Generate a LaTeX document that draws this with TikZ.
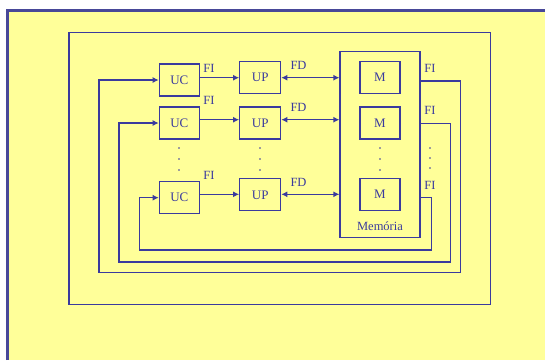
\documentclass[tikz,border=0pt]{standalone}
\usepackage{fontspec}
\setmainfont{Liberation Serif}
\usetikzlibrary{arrows.meta}
\definecolor{ln}{HTML}{3A3A9E}
\definecolor{pan}{HTML}{FFFF99}
\begin{document}
\begin{tikzpicture}[x=1pt,y=-1pt,
  box/.style={draw=ln,line width=1.2pt,minimum width=40pt,minimum height=32pt,inner sep=0pt,text=ln,font=\fontsize{13}{15}\selectfont},
  lbl/.style={text=ln,inner sep=0pt,font=\fontsize{12.5}{14}\selectfont},
  wire/.style={draw=ln,line width=1.2pt},
  tip/.style={-{Latex[length=6pt,width=6pt]}},
  dtip/.style={{Latex[length=6pt,width=6pt]}-{Latex[length=6pt,width=6pt]}},
  dot/.style={fill=ln}]
\useasboundingbox (0,0) rectangle (545,360);
\fill[white] (0,0) rectangle (545,360);
\fill[pan] (7.5,10.5) rectangle (545,360);
\draw[ln!80!gray,line width=2.2pt] (7.5,360) -- (7.5,10.5) -- (545,10.5);
\draw[wire] (69,32.7) rectangle (490.7,304.3);
% boxes
\node[box] (UC1) at (179.3,80) {UC};
\node[box] (UC2) at (179.3,123) {UC};
\node[box] (UC3) at (179.3,197.7) {UC};
\node[box,minimum width=41pt] (UP1) at (260.2,77.7) {UP};
\node[box,minimum width=41pt] (UP2) at (260.2,123) {UP};
\node[box,minimum width=41pt] (UP3) at (260.2,194.8) {UP};
\node[draw=ln,line width=1.2pt,minimum width=80pt,minimum height=185.6pt,inner sep=0pt] (Mem) at (380,144.5) {};
\node[box] (M1) at (380,77.7) {M};
\node[box] (M2) at (380,123) {M};
\node[box] (M3) at (380,194.7) {M};
\node[lbl] (memlbl) at (380,226) {Memória};
% row levels
\coordinate (a1) at (0,77.7);
\coordinate (a2) at (0,119.7);
\coordinate (a3) at (0,194.3);
% UC -> UP
\draw[wire,tip] (UC1.east |- a1) -- (UP1.west |- a1);
\draw[wire,tip] (UC2.east |- a2) -- (UP2.west |- a2);
\draw[wire,tip] (UC3.east |- a3) -- (UP3.west |- a3);
% UP <-> Mem
\draw[wire,dtip] (UP1.east |- a1) -- (Mem.west |- a1);
\draw[wire,dtip] (UP2.east |- a2) -- (Mem.west |- a2);
\draw[wire,dtip] (UP3.east |- a3) -- (Mem.west |- a3);
% feedback loops
\coordinate (R1) at (460.7,81);
\coordinate (L1) at (99,272.3);
\coordinate (R2) at (450.3,123.3);
\coordinate (L2) at (119,262);
\coordinate (R3) at (431.3,197.7);
\coordinate (L3) at (139.3,250);
\draw[wire,tip] (Mem.east |- R1) -- (R1) -- (R1 |- L1) -- (L1) -- (L1 |- UC1) -- (UC1.west);
\draw[wire,tip] (Mem.east |- R2) -- (R2) -- (R2 |- L2) -- (L2) -- (L2 |- UC2) -- (UC2.west);
\draw[wire,tip] (Mem.east |- R3) -- (R3) -- (R3 |- L3) -- (L3) -- (L3 |- UC3) -- (UC3.west);
% labels
\node[lbl] (fi1) at (209,68) {FI};
\node[lbl] (fi2) at (209,100.7) {FI};
\node[lbl] (fi3) at (209,175) {FI};
\node[lbl] (fd1) at (298.5,65) {FD};
\node[lbl] (fd2) at (298.5,107.3) {FD};
\node[lbl] (fd3) at (298.5,182) {FD};
\node[lbl] (fr1) at (430,68.3) {FI};
\node[lbl] (fr2) at (430,110) {FI};
\node[lbl] (fr3) at (430,185) {FI};
% dots
\foreach \x in {179,260,380}
  \foreach \y in {148,159,170}
    \fill[dot] (\x,\y) circle (0.8);
\foreach \y in {148,158,168}
  \fill[dot] (430,\y) circle (0.8);
\end{tikzpicture}
\end{document}
